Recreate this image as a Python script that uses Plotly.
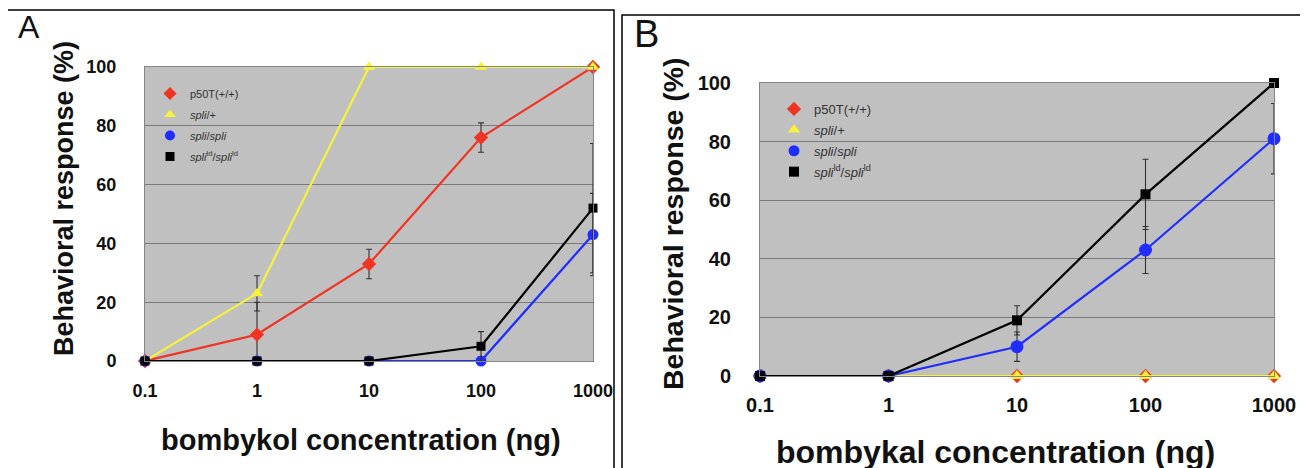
import plotly.graph_objects as go

# ---------------- data ----------------
conc = [0.1, 1, 10, 100, 1000]
x_tick_text = ["0.1", "1", "10", "100", "1000"]
y_ticks = [0, 20, 40, 60, 80, 100]

series_names = [
    "p50T(+/+)",
    "<i>spli</i>/+",
    "<i>spli</i>/<i>spli</i>",
    "<i>spli</i><sup>ld</sup>/<i>spli</i><sup>ld</sup>",
]

# Panel A (bombykol)
a_p50t = [0, 9, 33, 76, 100]
a_p50t_err_up = [None, 11, 5, 5, None]
a_p50t_err_dn = [None, 9, 5, 5, None]
a_spl_het = [0, 23, 100, 100, 100]
a_spl_het_err = [None, 6, None, None, None]
a_spl_hom = [0, 0, 0, 0, 43]
a_spl_hom_err = [None, None, None, None, 14]
a_spl_ld = [0, 0, 0, 5, 52]
a_spl_ld_err_up = [None, None, None, 5, 22]
a_spl_ld_err_dn = [None, None, None, 5, 22]

# Panel B (bombykal)
b_p50t = [0, 0, 0, 0, 0]
b_spl_het = [0, 0, 0, 0, 0]
b_spl_hom = [0, 0, 10, 43, 81]
b_spl_hom_err = [None, None, 5, 8, 12]
b_spl_ld = [0, 0, 19, 62, 100]
b_spl_ld_err = [None, None, 5, 12, None]

# ---------------- style ----------------
W, H = 1308, 468
OFF = 8  # page body margin
RED, YEL, BLU, BLK = "#f03424", "#f7f23a", "#1f2dff", "#000000"
FONT = "Liberation Sans, Arial, sans-serif"
ERRC = "#303030"


def px_x(p):
    return (p - OFF) / W


def px_y(p):
    return 1 - (p - OFF) / H


fig = go.Figure()


def add_series(xa, ya, y, color, symbol, size, err_up=None, err_dn=None, lw=2.2):
    ey = None
    if err_up is not None:
        ey = dict(type="data", array=err_up,
                  arrayminus=err_dn if err_dn is not None else err_up,
                  symmetric=False, color=ERRC, thickness=1.1, width=3)
    fig.add_trace(go.Scatter(
        x=conc, y=y, xaxis=xa, yaxis=ya, mode="lines+markers",
        line=dict(color=color, width=lw),
        marker=dict(color=color, symbol=symbol, size=size, line=dict(width=0)),
        error_y=ey, showlegend=False, cliponaxis=False, hoverinfo="skip"))


# Panel A
add_series("x", "y", a_p50t, RED, "diamond", 11, a_p50t_err_up, a_p50t_err_dn)
add_series("x", "y", a_spl_het, YEL, "triangle-up", 11, a_spl_het_err)
add_series("x", "y", a_spl_hom, BLU, "circle", 11, a_spl_hom_err)
add_series("x", "y", a_spl_ld, BLK, "square", 9, a_spl_ld_err_up, a_spl_ld_err_dn)

# Panel B
add_series("x2", "y2", b_p50t, RED, "diamond", 11)
add_series("x2", "y2", b_spl_het, YEL, "triangle-up", 12)
add_series("x2", "y2", b_spl_hom, BLU, "circle", 13, b_spl_hom_err)
add_series("x2", "y2", b_spl_ld, BLK, "square", 10, b_spl_ld_err)

# Legend-only entries (markers only, Excel style)
leg_colors = [RED, YEL, BLU, BLK]
leg_symbols = ["diamond", "triangle-up", "circle", "square"]
for lg, xa, ya, sz in (("legend", "x", "y", 10), ("legend2", "x2", "y2", 11)):
    for i, (nm, c, s) in enumerate(zip(series_names, leg_colors, leg_symbols)):
        fig.add_trace(go.Scatter(
            x=[None], y=[None], xaxis=xa, yaxis=ya, mode="markers",
            marker=dict(color=c, symbol=s, size=sz if s != "square" else sz - 1),
            name=nm, legend=lg, legendgroup=f"{lg}{i}", showlegend=True))

axis_common = dict(showline=True, linecolor="#858585", linewidth=1, mirror=True,
                   ticks="", zeroline=False, automargin=False)

fig.update_layout(
    width=W, height=H, margin=dict(l=0, r=0, t=0, b=0, autoexpand=False),
    paper_bgcolor="white", plot_bgcolor="#c0c0c0",
    font=dict(family=FONT, color="#000"),
    xaxis=dict(type="log", range=[-1, 3], domain=[px_x(145), px_x(593)],
               tickvals=conc, ticktext=x_tick_text, showgrid=False,
               tickfont=dict(size=18, weight="bold", color="#111"),
               ticklabelstandoff=13, anchor="y", **axis_common),
    yaxis=dict(range=[0, 100], domain=[px_y(361), px_y(67)], tickvals=y_ticks,
               showgrid=True, gridcolor="#7a7a7a", gridwidth=1,
               tickfont=dict(size=18, weight="bold", color="#111"),
               ticklabelstandoff=24, anchor="x", **axis_common),
    xaxis2=dict(type="log", range=[-1, 3], domain=[px_x(760), px_x(1274)],
                tickvals=conc, ticktext=x_tick_text, showgrid=False,
                tickfont=dict(size=20, weight="bold", color="#111"),
                ticklabelstandoff=11, anchor="y2", **axis_common),
    yaxis2=dict(range=[0, 100], domain=[px_y(376), px_y(83)], tickvals=y_ticks,
                showgrid=True, gridcolor="#7a7a7a", gridwidth=1,
                tickfont=dict(size=20, weight="bold", color="#111"),
                ticklabelstandoff=24, anchor="x2", **axis_common),
    legend=dict(x=px_x(150), y=px_y(79), xanchor="left", yanchor="top",
                bgcolor="rgba(0,0,0,0)", font=dict(size=11, color="#333"),
                tracegroupgap=2, itemclick=False),
    legend2=dict(x=px_x(774), y=px_y(94), xanchor="left", yanchor="top",
                 bgcolor="rgba(0,0,0,0)", font=dict(size=13, color="#333"),
                 tracegroupgap=1, itemclick=False),
    shapes=[
        dict(type="rect", xref="paper", yref="paper", x0=px_x(7), x1=px_x(614),
             y0=-0.05, y1=px_y(10), line=dict(color="black", width=1.5)),
        dict(type="rect", xref="paper", yref="paper", x0=px_x(622), x1=px_x(1302),
             y0=-0.05, y1=px_y(15), line=dict(color="black", width=1.5)),
    ],
    annotations=[
        dict(text="A", xref="paper", yref="paper", x=px_x(16), y=px_y(27),
             xanchor="left", yanchor="middle", showarrow=False,
             font=dict(size=32, color="#111")),
        dict(text="B", xref="paper", yref="paper", x=px_x(632), y=px_y(34),
             xanchor="left", yanchor="middle", showarrow=False,
             font=dict(size=38, color="#111")),
        dict(text="Behavioral response (%)", xref="paper", yref="paper",
             x=px_x(64), y=px_y(199), textangle=-90, showarrow=False,
             xanchor="center", yanchor="middle",
             font=dict(size=27, weight="bold", color="#111")),
        dict(text="Behavioral response (%)", xref="paper", yref="paper",
             x=px_x(673), y=px_y(224), textangle=-90, showarrow=False,
             xanchor="center", yanchor="middle",
             font=dict(size=28.5, weight="bold", color="#111")),
        dict(text="bombykol concentration (ng)", xref="paper", yref="paper",
             x=px_x(361), y=px_y(440), showarrow=False,
             xanchor="center", yanchor="middle",
             font=dict(size=29, weight="bold", color="#111")),
        dict(text="bombykal concentration (ng)", xref="paper", yref="paper",
             x=px_x(996), y=px_y(452), showarrow=False,
             xanchor="center", yanchor="middle",
             font=dict(size=32, weight="bold", color="#111")),
    ],
)

fig.write_html("out.html")
